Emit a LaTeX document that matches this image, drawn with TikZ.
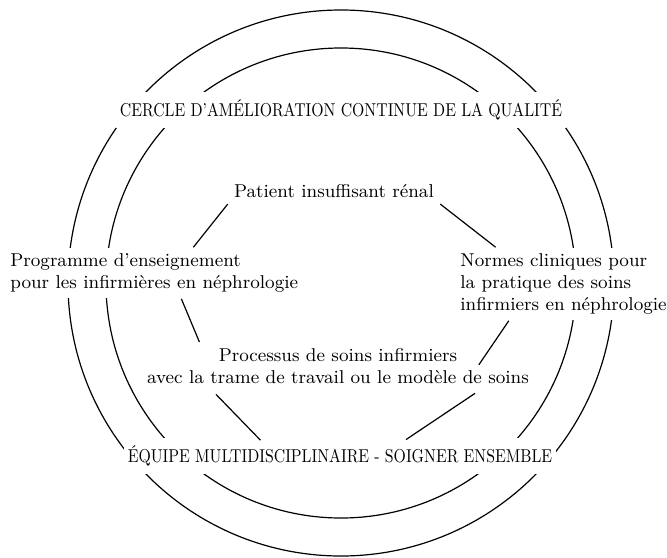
\documentclass[tikz,border=0pt]{standalone}
\usepackage{fontspec}
\newfontfamily\capsfont[FakeStretch=0.85, Ligatures=TeX]{lmroman10-regular.otf}
\usepackage{tikz}
\usetikzlibrary{calc}

\begin{document}
\begin{tikzpicture}[
        x=0.5pt, y=-0.5pt,
        ring/.style={line width=0.6pt},
        caps/.style={fill=white, inner xsep=2pt, inner ysep=4pt, font=\capsfont\fontsize{9.3}{11}\selectfont},
        topic/.style={inner sep=3pt, font=\fontsize{9.3}{11}\selectfont},
        mask/.style={fill=white},
        line/.style={line width=0.6pt}
    ]
        \useasboundingbox (0,0) rectangle (667,557);
        \draw[ring] (341,283) circle[radius=273];
        \draw[ring] (341,283) circle[radius=235];

        \node[caps] (cercle) at (341,110) {CERCLE D'AMÉLIORATION CONTINUE DE LA QUALITÉ};
        \node[caps] (equipe) at (340,456) {ÉQUIPE MULTIDISCIPLINAIRE - SOIGNER ENSEMBLE};
        \node[topic] (patient) at (334,191) {Patient insuffisant rénal};
        \node[topic, mask, align=left, anchor=west] (programme) at (4,273) {Programme d'enseignement\\pour les infirmières en néphrologie};
        \node[topic, mask, align=left, anchor=west] (normes) at (454,284) {Normes cliniques pour\\la pratique des soins\\infirmiers en néphrologie};
        \node[topic, inner xsep=9.5pt] (processus) at (338,355) {Processus de soins infirmiers};
        \node[topic] (trame) at (338,377) {avec la trame de travail ou le modèle de soins};

        \draw[line] (patient.south west) -- ($(programme.north west)!0.63!(programme.north east)$);
        \draw[line] (patient.south east) -- ($(normes.north west)!0.19!(normes.north east)$);
        \draw[line] ($(programme.south west)!0.59!(programme.south east)$) -- (processus.north west);
        \draw[line, shorten >=2pt] ($(normes.south west)!0.25!(normes.south east)$) -- (processus.south east);
        \draw[line, shorten <=3pt, shorten >=-2pt] ($(trame.south west)!0.18!(trame.south east)$) -- ($(equipe.north west)!0.31!(equipe.north east)$);
        \draw[line, shorten <=3pt, shorten >=-2pt] ($(trame.south west)!0.86!(trame.south east)$) -- ($(equipe.north west)!0.66!(equipe.north east)$);
\end{tikzpicture}
\end{document}
